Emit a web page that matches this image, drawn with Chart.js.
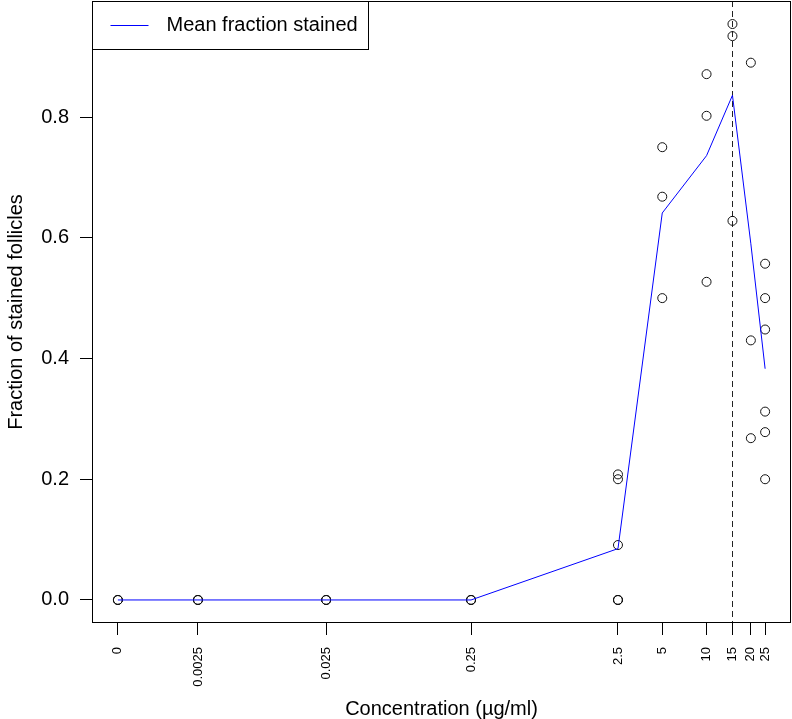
<!DOCTYPE html>
<html>
<head>
<meta charset="utf-8">
<title>Fraction of stained follicles</title>
<script src="https://cdn.jsdelivr.net/npm/chart.js@4.4.1/dist/chart.umd.min.js"></script>
<style>
    body { margin: 0; background: #fff; }
    canvas { display: block; }
</style>
</head>
<body>
<canvas id="chart" width="792" height="719"></canvas>
<script>
// Concentrations tested (µg/ml) and their tick labels
const concentrations = [0, 0.0025, 0.025, 0.25, 2.5, 5, 10, 15, 20, 25];
const tickLabels = ['0', '0.0025', '0.025', '0.25', '2.5', '5', '10', '15', '20', '25'];

// Mean fraction stained at each concentration
const meanFraction = [0, 0, 0, 0, 0.085, 0.641, 0.736, 0.836, 0.59, 0.383];

// Individual observations
const obsConc = [
    0, 0, 0,
    0.0025, 0.0025, 0.0025,
    0.025, 0.025, 0.025,
    0.25, 0.25, 0.25,
    2.5, 2.5, 2.5, 2.5, 2.5, 2.5,
    5, 5, 5,
    10, 10, 10,
    15, 15, 15,
    20, 20, 20,
    25, 25, 25, 25, 25, 25
];
const obsFraction = [
    0, 0, 0,
    0, 0, 0,
    0, 0, 0,
    0, 0, 0,
    0, 0, 0, 0.091, 0.2, 0.208,
    0.5, 0.668, 0.75,
    0.527, 0.802, 0.871,
    0.628, 0.934, 0.954,
    0.268, 0.43, 0.89,
    0.2, 0.278, 0.312, 0.448, 0.5, 0.557
];

const yTicks = [0, 0.2, 0.4, 0.6, 0.8];
const markerConc = 15;
const legendLabel = 'Mean fraction stained';

// x axis is log10(concentration + small offset) so that 0 can be shown
const logOffset = 0.001;
function toAxis(c) {
    return Math.log10(c + logOffset);
}

const FONT = "'Liberation Sans', Arial, Helvetica, sans-serif";
Chart.defaults.font.family = FONT;
Chart.defaults.color = '#000';

// R style range: data range plus 4% either side
const xLo = toAxis(concentrations[0]);
const xHi = toAxis(concentrations[concentrations.length - 1]);
const xPad = (xHi - xLo) * 0.04;
const yMax = Math.max(...obsFraction);
const yPad = yMax * 0.04;

// box, dashed marker line and legend drawn like base R graphics
const rStylePlugin = {
    id: 'rStyle',
    beforeDatasetsDraw(chart) {
        const { ctx, chartArea, scales } = chart;
        const x = Math.round(scales.x.getPixelForValue(toAxis(markerConc))) + 0.5;
        ctx.save();
        ctx.strokeStyle = '#222';
        ctx.lineWidth = 1;
        ctx.setLineDash([6, 4]);
        ctx.beginPath();
        ctx.moveTo(x, chartArea.top);
        ctx.lineTo(x, chartArea.bottom);
        ctx.stroke();
        ctx.restore();
    },
    afterDraw(chart) {
        const { ctx, chartArea } = chart;
        ctx.save();
        ctx.strokeStyle = '#000';
        ctx.lineWidth = 1;
        ctx.strokeRect(chartArea.left + 0.5, chartArea.top + 0.5,
            chartArea.right - chartArea.left - 1, chartArea.bottom - chartArea.top - 1);

        // legend box in the top left corner
        const lx = chartArea.left + 0.5;
        const ly = chartArea.top + 0.5;
        ctx.fillStyle = '#fff';
        ctx.fillRect(lx, ly, 276, 48);
        ctx.strokeRect(lx, ly, 276, 48);
        ctx.strokeStyle = '#0000ff';
        ctx.beginPath();
        ctx.moveTo(lx + 18, ly + 24);
        ctx.lineTo(lx + 56, ly + 24);
        ctx.stroke();
        ctx.fillStyle = '#000';
        ctx.font = '20px ' + FONT;
        ctx.textBaseline = 'middle';
        ctx.fillText(legendLabel, lx + 74, ly + 24);
        ctx.restore();
    }
};

new Chart(document.getElementById('chart'), {
    type: 'scatter',
    data: {
        datasets: [
            {
                label: legendLabel,
                data: concentrations.map((c, i) => ({ x: toAxis(c), y: meanFraction[i] })),
                showLine: true,
                borderColor: '#0000ff',
                borderWidth: 1,
                pointRadius: 0,
                tension: 0
            },
            {
                label: 'Observed',
                data: obsConc.map((c, i) => ({ x: toAxis(c), y: obsFraction[i] })),
                pointStyle: 'circle',
                pointRadius: 4.5,
                borderWidth: 1,
                borderColor: '#111',
                backgroundColor: 'rgba(0,0,0,0)'
            }
        ]
    },
    options: {
        responsive: false,
        animation: false,
        devicePixelRatio: 1,
        layout: { autoPadding: false, padding: { top: 1, right: 1, left: 0, bottom: 0 } },
        plugins: {
            legend: { display: false },
            tooltip: { enabled: false }
        },
        scales: {
            x: {
                type: 'linear',
                min: xLo - xPad,
                max: xHi + xPad,
                afterBuildTicks: scale => {
                    scale.ticks = concentrations.map(c => ({ value: toAxis(c) }));
                },
                afterFit: scale => {
                    scale.height = 96;
                    scale.paddingLeft = 0;
                    scale.paddingRight = 0;
                },
                ticks: {
                    callback: (value, index) => tickLabels[index],
                    minRotation: 90,
                    maxRotation: 90,
                    autoSkip: false,
                    font: { size: 13 },
                    padding: 12
                },
                grid: { drawOnChartArea: false, tickLength: 12, color: '#000' },
                border: { display: false },
                title: {
                    display: true,
                    text: 'Concentration (µg/ml)',
                    font: { size: 20, lineHeight: 1 },
                    padding: { top: 0, bottom: 0 }
                }
            },
            y: {
                min: -yPad,
                max: yMax + yPad,
                afterBuildTicks: scale => {
                    scale.ticks = yTicks.map(v => ({ value: v }));
                },
                afterFit: scale => {
                    scale.width = 92;
                    scale.paddingTop = 0;
                    scale.paddingBottom = 0;
                },
                ticks: {
                    callback: value => value.toFixed(1),
                    font: { size: 20 },
                    padding: 11
                },
                grid: { drawOnChartArea: false, tickLength: 12, color: '#000' },
                border: { display: false },
                title: {
                    display: true,
                    text: 'Fraction of stained follicles',
                    font: { size: 20 },
                    padding: { top: 4, bottom: 0 }
                }
            }
        }
    },
    plugins: [rStylePlugin]
});
</script>
</body>
</html>
